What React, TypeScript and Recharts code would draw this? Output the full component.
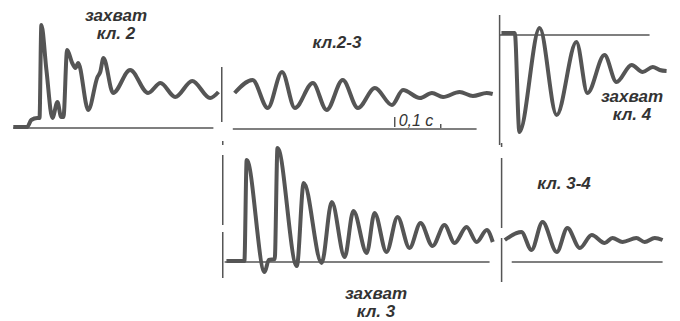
import { LineChart, Line, XAxis, YAxis, ReferenceLine } from 'recharts';

// horizontal scale of the oscillogram: 0.1 s marker is about 46 px long
const PX_PER_MS = 0.46;
const TRACE = '#555';
const INK = '#333';

// захват кл. 2  (time, ms / amplitude above the zero line)
const cap2Time = [0, 30, 39, 52, 57, 61, 72, 85, 96, 104, 109, 117, 128, 135, 141, 163, 183, 189, 196, 217, 254, 293, 320, 352, 389, 428, 446];
const cap2Val = [1, 1, 8, 10, 10, 103, 58, 10, 26, 11, 11, 78, 65, 60, 65, 18, 51, 56, 70, 35, 58, 35, 45, 31, 47, 30, 36];

// кл. 2-3
const sw23Time = [4, 43, 76, 107, 135, 174, 204, 239, 272, 309, 346, 370, 407, 433, 457, 493, 522, 552, 565];
const sw23Val = [36, 49, 21, 57, 21, 46, 19, 49, 21, 41, 24, 39, 31, 36, 32, 37, 33, 36, 35];

// захват кл. 4 (measured from the upper line, downwards negative)
const cap4Time = [4, 33, 43, 87, 124, 167, 191, 228, 254, 287, 311, 333, 348, 363];
const cap4Val = [2, 2, -97, 7, -80, -7, -58, -20, -47, -30, -37, -32, -35, -36];

// захват кл. 3
const cap3Time = [4, 43, 48, 87, 96, 109, 115, 157, 172, 211, 233, 261, 280, 309, 326, 352, 376, 402, 426, 452, 478, 500, 526, 548, 570, 583];
const cap3Val = [1, 1, 102, -10, 2, 3, 114, -4, 79, -1, 60, 5, 51, 9, 49, 10, 45, 14, 39, 16, 37, 19, 35, 20, 32, 20];

// кл. 3-4
const sw34Time = [7, 43, 65, 89, 120, 143, 170, 196, 224, 241, 263, 293, 311, 333, 350];
const sw34Val = [22, 30, 12, 40, 10, 34, 14, 27, 19, 24, 20, 24, 20, 24, 22];

type Seg = [number, number, number, number]; // t1, v1, t2, v2

type PanelProps = {
    x0: number;
    yb: number;
    time: number[];
    val: number[];
    tDomain: [number, number];
    vDomain: [number, number];
    base: [number, number];
    guides?: Seg[];
};

function Panel({ x0, yb, time, val, tDomain, vDomain, base, guides = [] }: PanelProps) {
    const data = time.map((t, i) => ({ t, v: val[i] }));
    const left = x0 + tDomain[0] * PX_PER_MS;
    const width = (tDomain[1] - tDomain[0]) * PX_PER_MS;
    const height = vDomain[1] - vDomain[0];
    return (
        <div style={{ position: 'absolute', left, top: yb - vDomain[1] }}>
            <LineChart width={width} height={height} data={data} margin={{ top: 0, right: 0, bottom: 0, left: 0 }}>
                <XAxis type="number" dataKey="t" domain={tDomain} hide />
                <YAxis type="number" domain={vDomain} hide />
                <ReferenceLine segment={[{ x: base[0], y: 0 }, { x: base[1], y: 0 }]} stroke={TRACE} strokeWidth={1.5} />
                {guides.map((g, i) => (
                    <ReferenceLine key={i} segment={[{ x: g[0], y: g[1] }, { x: g[2], y: g[3] }]} stroke={TRACE} strokeWidth={1.5} />
                ))}
                <Line type="monotone" dataKey="v" stroke={TRACE} strokeWidth={4} dot={false} isAnimationActive={false} />
            </LineChart>
        </div>
    );
}

function Caption({ x, y, lines, size = 17, bold = true }: { x: number; y: number; lines: string[]; size?: number; bold?: boolean }) {
    return (
        <div style={{
            position: 'absolute', left: x - 60, top: y, width: 120, textAlign: 'center',
            fontFamily: '"Liberation Sans", Arial, sans-serif', fontStyle: 'italic', fontWeight: bold ? 700 : 400,
            fontSize: size, lineHeight: '18px', color: INK,
        }}>
            {lines.map((l) => <div key={l}>{l}</div>)}
        </div>
    );
}

export default function App() {
    return (
        <div style={{ position: 'absolute', left: 0, top: 0, width: 680, height: 321, background: '#fff', overflow: 'hidden' }}>
            <Panel x0={13} yb={128} time={cap2Time} val={cap2Val} tDomain={[-5, 460]} vDomain={[-5, 110]} base={[0, 435]} />
            <Panel x0={233} yb={129} time={sw23Time} val={sw23Val} tDomain={[-30, 570]} vDomain={[-5, 70]} base={[0, 530]}
                guides={[[-24, 62, -24, 7], [352, 12, 352, 2], [452, 5, 452, 1]]} />
            <Panel x0={500} yb={35} time={cap4Time} val={cap4Val} tDomain={[-10, 370]} vDomain={[-115, 25]} base={[0, 326]}
                guides={[[0, 20, 0, -110]]} />
            <Panel x0={225} yb={262} time={cap3Time} val={cap3Val} tDomain={[-10, 590]} vDomain={[-20, 125]} base={[0, 576]}
                guides={[[-4, 121, -4, 117], [-4, 107, -4, 37], [-4, 30, -4, -16]]} />
            <Panel x0={502} yb={262} time={sw34Time} val={sw34Val} tDomain={[-10, 370]} vDomain={[-25, 125]} base={[22, 350]}
                guides={[[0, 119, 0, 115], [0, 104, 0, 34], [0, 24, 0, -20]]} />

            <Caption x={116} y={7} lines={['захват', 'кл. 2']} />
            <Caption x={337} y={34} lines={['кл.2-3']} />
            <Caption x={632} y={88} lines={['захват', 'кл. 4']} />
            <Caption x={376} y={285} lines={['захват', 'кл. 3']} />
            <Caption x={564} y={175} lines={['кл. 3-4']} />
            <Caption x={416} y={112} lines={['0,1 с']} size={16} bold={false} />
        </div>
    );
}
